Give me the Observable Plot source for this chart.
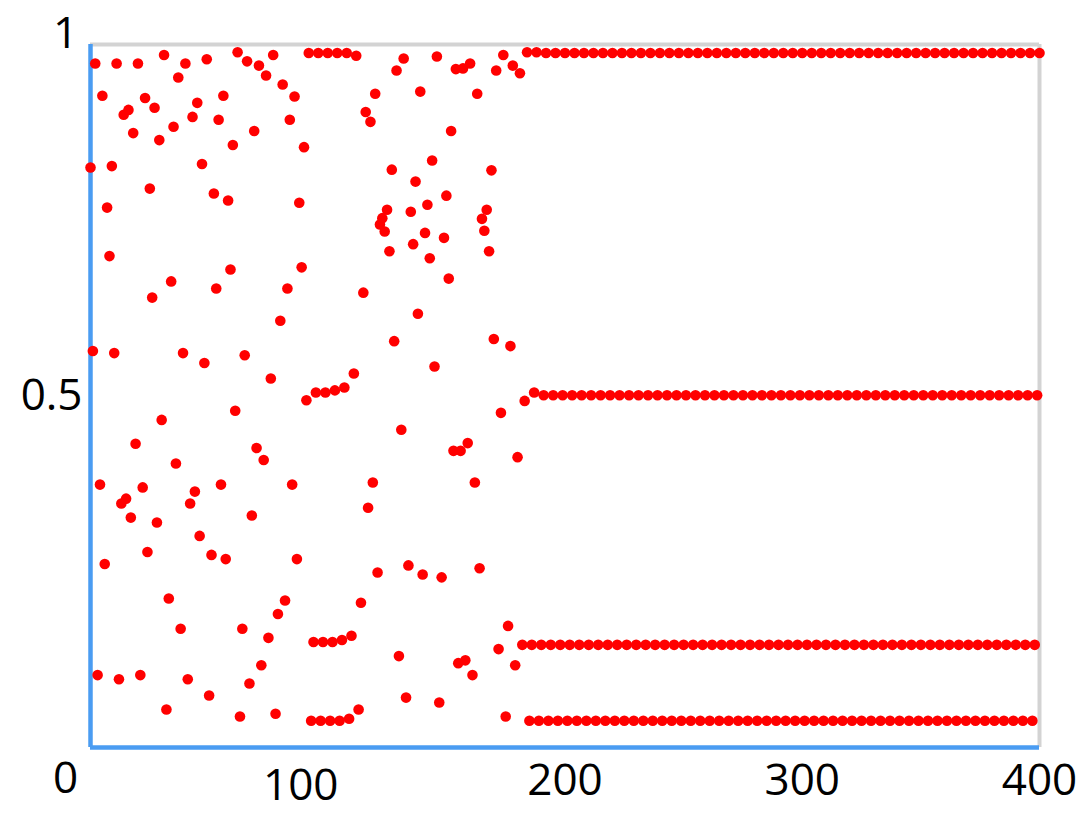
<!DOCTYPE html>
<html>
<head>
<meta charset="utf-8">
<script src="https://cdn.jsdelivr.net/npm/d3@7"></script>
<script src="https://cdn.jsdelivr.net/npm/@observablehq/plot@0.6"></script>
<style>
  html, body { margin: 0; padding: 0; background: #ffffff; }
  #chart svg { display: block; }
</style>
</head>
<body>
<div id="chart"></div>
<script>
// Values: one point per step (steps 0..400)
// Steps 0..181: chaotic transient
const transientValues = [
  0.825, 0.564, 0.973, 0.103, 0.374, 0.927, 0.261, 0.768, 0.699, 0.827,
  0.561, 0.973, 0.097, 0.347, 0.900, 0.354, 0.907, 0.327, 0.874, 0.432,
  0.973, 0.103, 0.370, 0.924, 0.278, 0.795, 0.640, 0.910, 0.320, 0.864,
  0.466, 0.985, 0.054, 0.212, 0.663, 0.883, 0.404, 0.953, 0.169, 0.561,
  0.973, 0.097, 0.347, 0.897, 0.364, 0.917, 0.301, 0.830, 0.547, 0.979,
  0.074, 0.274, 0.788, 0.653, 0.893, 0.374, 0.927, 0.268, 0.778, 0.680,
  0.857, 0.479, 0.989, 0.044, 0.169, 0.558, 0.976, 0.091, 0.330, 0.877,
  0.426, 0.970, 0.117, 0.409, 0.956, 0.156, 0.525, 0.985, 0.048, 0.190,
  0.607, 0.943, 0.209, 0.653, 0.893, 0.374, 0.926, 0.268, 0.775, 0.683,
  0.854, 0.494, 0.988, 0.038, 0.150, 0.505, 0.988, 0.038, 0.150, 0.505,
  0.988, 0.038, 0.150, 0.508, 0.988, 0.038, 0.153, 0.512, 0.988, 0.041,
  0.159, 0.532, 0.984, 0.054, 0.206, 0.647, 0.904, 0.341, 0.890, 0.377,
  0.930, 0.249, 0.744, 0.753, 0.734, 0.765, 0.706, 0.822, 0.578, 0.963,
  0.130, 0.452, 0.980, 0.071, 0.259, 0.762, 0.716, 0.805, 0.617, 0.933,
  0.246, 0.732, 0.772, 0.696, 0.835, 0.542, 0.983, 0.064, 0.242, 0.725,
  0.785, 0.667, 0.877, 0.422, 0.965, 0.120, 0.422, 0.966, 0.124, 0.433,
  0.973, 0.103, 0.377, 0.930, 0.255, 0.752, 0.735, 0.765, 0.706, 0.821,
  0.581, 0.963, 0.140, 0.476, 0.985, 0.044, 0.173, 0.571, 0.970, 0.117,
  0.413, 0.959
];
// Steps 182..190: settling into the cycle
const settlingValues = [0.146, 0.493, 0.989, 0.038, 0.146, 0.505, 0.989, 0.038, 0.146];
// Steps 191..400: the four-level cycle
const cycleValues = [
  0.501, 0.988, 0.038, 0.146, 0.501, 0.988, 0.038, 0.146, 0.501, 0.988, 0.038, 0.146,
  0.501, 0.988, 0.038, 0.146, 0.501, 0.988, 0.038, 0.146, 0.501, 0.988, 0.038, 0.146,
  0.501, 0.988, 0.038, 0.146, 0.501, 0.988, 0.038, 0.146, 0.501, 0.988, 0.038, 0.146,
  0.501, 0.988, 0.038, 0.146, 0.501, 0.988, 0.038, 0.146, 0.501, 0.988, 0.038, 0.146,
  0.501, 0.988, 0.038, 0.146, 0.501, 0.988, 0.038, 0.146, 0.501, 0.988, 0.038, 0.146,
  0.501, 0.988, 0.038, 0.146, 0.501, 0.988, 0.038, 0.146, 0.501, 0.988, 0.038, 0.146,
  0.501, 0.988, 0.038, 0.146, 0.501, 0.988, 0.038, 0.146, 0.501, 0.988, 0.038, 0.146,
  0.501, 0.988, 0.038, 0.146, 0.501, 0.988, 0.038, 0.146, 0.501, 0.988, 0.038, 0.146,
  0.501, 0.988, 0.038, 0.146, 0.501, 0.988, 0.038, 0.146, 0.501, 0.988, 0.038, 0.146,
  0.501, 0.988, 0.038, 0.146, 0.501, 0.988, 0.038, 0.146, 0.501, 0.988, 0.038, 0.146,
  0.501, 0.988, 0.038, 0.146, 0.501, 0.988, 0.038, 0.146, 0.501, 0.988, 0.038, 0.146,
  0.501, 0.988, 0.038, 0.146, 0.501, 0.988, 0.038, 0.146, 0.501, 0.988, 0.038, 0.146,
  0.501, 0.988, 0.038, 0.146, 0.501, 0.988, 0.038, 0.146, 0.501, 0.988, 0.038, 0.146,
  0.501, 0.988, 0.038, 0.146, 0.501, 0.988, 0.038, 0.146, 0.501, 0.988, 0.038, 0.146,
  0.501, 0.988, 0.038, 0.146, 0.501, 0.988, 0.038, 0.146, 0.501, 0.988, 0.038, 0.146,
  0.501, 0.988, 0.038, 0.146, 0.501, 0.988, 0.038, 0.146, 0.501, 0.988, 0.038, 0.146,
  0.501, 0.988, 0.038, 0.146, 0.501, 0.988, 0.038, 0.146, 0.501, 0.988, 0.038, 0.146,
  0.501, 0.988, 0.038, 0.146, 0.501, 0.988
];

const xDomain = [0, 400];
const yDomain = [0, 1];
const xTicksMain = [200, 300, 400];
const xTicksShifted = [100];
const yTickMid = [0.5];
const yTickTop = [1];
const yTickBottom = [0];

const allValues = [...transientValues, ...settlingValues, ...cycleValues];
const data = allValues.map((v, i) => ({step: i, value: v}));

const blue = "#4a9cf2";
const gray = "#d3d3d3";
const fs = 44;
const fmt = d => String(d);

const chart = Plot.plot({
  width: 1092,
  height: 814,
  marginLeft: 90,
  marginRight: 53,
  marginTop: 44,
  marginBottom: 67,
  x: {domain: xDomain, label: null},
  y: {domain: yDomain, label: null},
  style: {fontFamily: "'Open Sans', 'Noto Sans', sans-serif", background: "#ffffff", color: "#000"},
  marks: [
    Plot.ruleY([1], {stroke: gray, strokeWidth: 4}),
    Plot.ruleX([400], {stroke: gray, strokeWidth: 4}),
    Plot.ruleX([0], {stroke: blue, strokeWidth: 4.5, y1: 0, y2: 1}),
    Plot.ruleY([0], {stroke: blue, strokeWidth: 4.5, x1: 0, x2: 400}),
    Plot.dot(data, {x: "step", y: "value", r: 5.3, fill: "#ff0000", stroke: null}),
    Plot.axisX(xTicksMain, {tickSize: 0, tickPadding: 16, fontSize: fs, fill: "#000", tickFormat: fmt}),
    Plot.axisX(xTicksShifted, {tickSize: 0, tickPadding: 21, dx: -27, fontSize: fs, fill: "#000", tickFormat: fmt}),
    Plot.axisY(yTickMid, {tickSize: 0, tickPadding: 8, fontSize: fs, fill: "#000", tickFormat: fmt}),
    Plot.axisY(yTickTop, {tickSize: 0, tickPadding: 25, textAnchor: "middle", dy: -11, fontSize: fs, fill: "#000", tickFormat: fmt}),
    Plot.axisY(yTickBottom, {tickSize: 0, tickPadding: 25, textAnchor: "middle", dy: 31, fontSize: fs, fill: "#000", tickFormat: fmt})
  ]
});
document.getElementById("chart").appendChild(chart);
</script>
</body>
</html>
